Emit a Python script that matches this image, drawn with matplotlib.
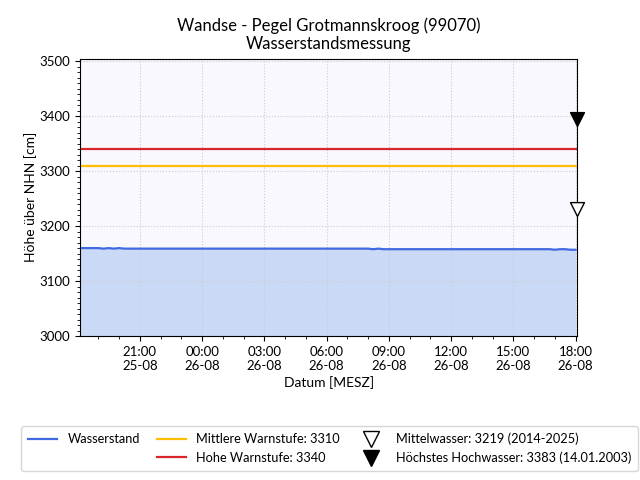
import numpy as np
import pandas as pd
import matplotlib
matplotlib.use("Agg")
import matplotlib.pyplot as plt
import matplotlib.dates as mdates
from matplotlib.lines import Line2D
from matplotlib.path import Path

plt.rcParams["font.family"] = ["Lato", "DejaVu Sans"]

# Messwerte (15-min Raster, 25-08 18:00 bis 26-08 18:00)
start = "2025-08-25 18:00"
pegel = (
    [3160] * 5
    + [3159, 3160, 3159, 3160, 3159]
    + [3159] * 47
    + [3158, 3159]
    + [3158] * 33
    + [3157, 3158, 3158, 3157, 3157]
)
zeiten = pd.date_range(start=start, periods=len(pegel), freq="15min")

mittlere_warnstufe = 3310
hohe_warnstufe = 3340
mittelwasser = 3219
hoechstes_hw = 3383

C_LINE = "#4169e1"
C_FILL = "#cad9f6"
C_GELB = "#ffbf00"
C_ROT = "#d9262b"

fig = plt.figure(figsize=(6.4, 4.8), dpi=100)
ax = fig.add_axes([0.125, 0.30, 0.777, 0.578])
ax.set_facecolor("#f8f8fe")

ax.fill_between(zeiten, 3000, pegel, color=C_FILL, lw=0)
ax.plot(zeiten, pegel, color=C_LINE, lw=1.6)
ax.axhline(mittlere_warnstufe, color=C_GELB, lw=1.6)
ax.axhline(hohe_warnstufe, color=C_ROT, lw=1.6)

x_end = pd.Timestamp("2025-08-26 18:05")
tip = Path([(-1, 2), (1, 2), (0, 0), (-1, 2)],
           [Path.MOVETO, Path.LINETO, Path.LINETO, Path.CLOSEPOLY])
ax.plot([x_end], [mittelwasser], marker=tip, ms=20, mfc="white", mec="black",
        mew=1.0, ls="none", clip_on=False, zorder=5)
ax.plot([x_end], [hoechstes_hw], marker=tip, ms=20, mfc="black", mec="black",
        ls="none", clip_on=False, zorder=5)

ax.set_xlim(pd.Timestamp("2025-08-25 18:07"), x_end)
ax.set_ylim(3000, 3505)

ax.xaxis.set_major_locator(mdates.HourLocator(byhour=range(0, 24, 3)))
ax.xaxis.set_minor_locator(mdates.HourLocator())
ax.xaxis.set_major_formatter(mdates.DateFormatter("%H:%M\n%d-%m"))
ax.yaxis.set_major_locator(plt.MultipleLocator(100))
ax.yaxis.set_minor_locator(plt.MultipleLocator(10))
ax.tick_params(labelsize=9.5)
ax.grid(True, which="major", color="#cccccc", ls=":", lw=0.8)

ax.set_ylabel("Höhe über NHN [cm]", fontsize=10, labelpad=2)
ax.set_xlabel("Datum [MESZ]", fontsize=10, labelpad=3)
ax.set_title("Wandse - Pegel Grotmannskroog (99070)\nWasserstandsmessung",
             fontsize=12, linespacing=1.15, pad=7)

handles = [
    Line2D([], [], color=C_LINE, lw=1.6),
    Line2D([], [], ls="none"),
    Line2D([], [], color=C_GELB, lw=1.6),
    Line2D([], [], color=C_ROT, lw=1.6),
    Line2D([], [], marker="v", ms=12, mfc="white", mec="black", ls="none"),
    Line2D([], [], marker="v", ms=12, mfc="black", mec="black", ls="none"),
]
labels = [
    "Wasserstand", "",
    "Mittlere Warnstufe: 3310", "Hohe Warnstufe: 3340",
    "Mittelwasser: 3219 (2014-2025)", "Höchstes Hochwasser: 3383 (14.01.2003)",
]
fig.legend(handles, labels, ncol=3, loc="lower center",
           bbox_to_anchor=(0.515, 0.006), fontsize=9.2, frameon=True,
           edgecolor="#cccccc", columnspacing=1.3, handlelength=2.3,
           handletextpad=0.8, borderpad=0.5, labelspacing=0.5)

fig.savefig("out.png", dpi=100)
